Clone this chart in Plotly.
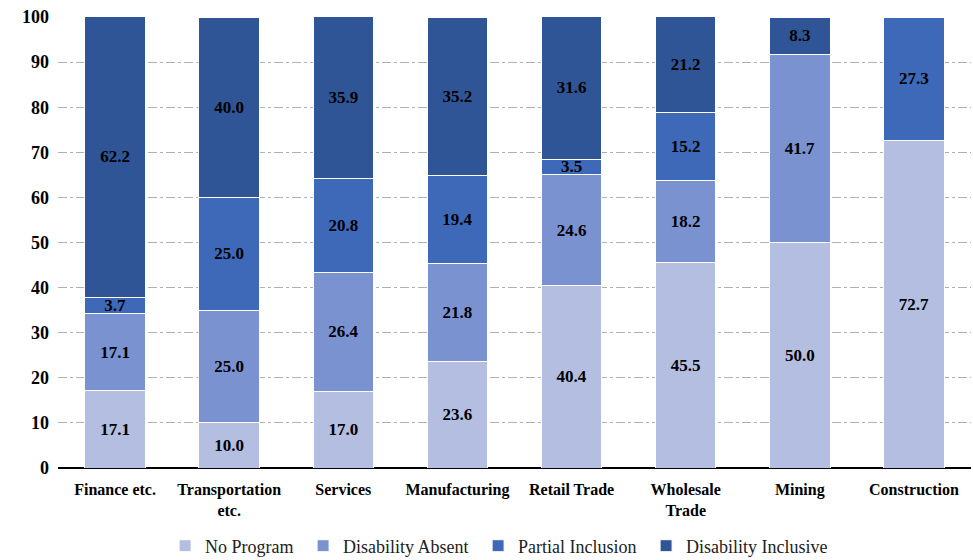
import plotly.graph_objects as go

categories = ["Finance etc.", "Transportation<br>etc.", "Services", "Manufacturing",
              "Retail Trade", "Wholesale<br>Trade", "Mining", "Construction"]
no_program = [17.1, 10.0, 17.0, 23.6, 40.4, 45.5, 50.0, 72.7]
disability_absent = [17.1, 25.0, 26.4, 21.8, 24.6, 18.2, 41.7, 0]
partial_inclusion = [3.7, 25.0, 20.8, 19.4, 3.5, 15.2, 0, 27.3]
disability_inclusive = [62.2, 40.0, 35.9, 35.2, 31.6, 21.2, 8.3, 0]

series = [
    ("No Program", no_program, "#B4BEE0"),
    ("Disability Absent", disability_absent, "#7A92D0"),
    ("Partial Inclusion", partial_inclusion, "#3E69B9"),
    ("Disability Inclusive", disability_inclusive, "#2F5597"),
]

font_family = "Liberation Serif"

fig = go.Figure()
for name, vals, color in series:
    fig.add_trace(go.Bar(
        x=categories, y=vals, name=name + " ",
        marker=dict(color=color, line=dict(color="white", width=1)),
        text=[f"{v:.1f}" if v > 0 else "" for v in vals],
        textposition="inside", insidetextanchor="middle",
        textfont=dict(family=font_family, size=17, color="black", weight="bold"),
        textangle=0,
    ))

fig.update_layout(
    barmode="stack",
    bargap=0.47,
    width=973, height=560,
    margin=dict(l=58, r=2, t=17, b=92, autoexpand=False),
    plot_bgcolor="white", paper_bgcolor="white",
    font=dict(family=font_family, color="black"),
    uniformtext=dict(minsize=10, mode="show"),
    legend=dict(orientation="h", x=0.515, xanchor="center", xref="container",
                y=0.025, yanchor="middle", yref="container",
                font=dict(family=font_family, size=18, color="#222"),
                itemwidth=30, traceorder="normal"),
    xaxis=dict(tickfont=dict(family=font_family, size=16, weight="bold"),
               showline=False, ticks="", ticklabelstandoff=10),
    yaxis=dict(range=[0, 100], dtick=10, showgrid=True, gridcolor="#B0B0B0",
               griddash="dashdot", gridwidth=1,
               zeroline=True, zerolinecolor="black", zerolinewidth=2,
               tickfont=dict(family=font_family, size=18, weight="bold"),
               ticks="", ticklabelstandoff=8),
)

fig.write_html("out.html")
